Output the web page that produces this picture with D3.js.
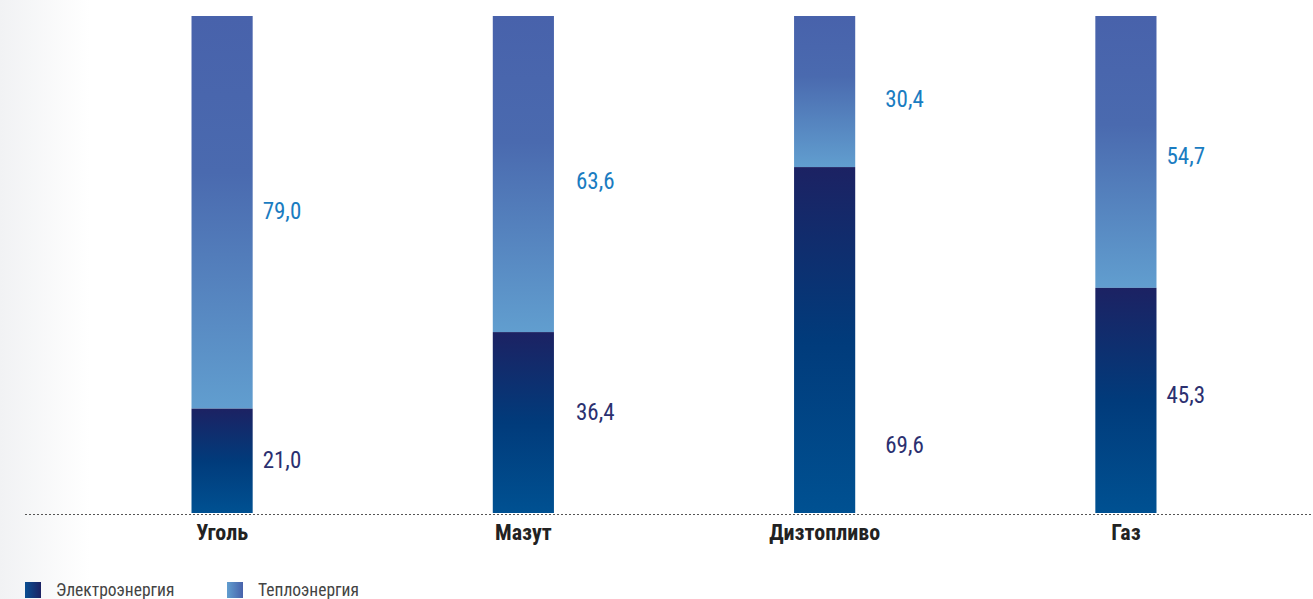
<!DOCTYPE html>
<html><head><meta charset="utf-8">
<script src="https://cdn.jsdelivr.net/npm/d3@7"></script>
<style>html,body{margin:0;padding:0;background:#fff;overflow:hidden}</style>
</head><body>
<svg id="c" width="1313" height="599"></svg>
<script>
const categories = ["Уголь", "Мазут", "Дизтопливо", "Газ"];
const electro = [21.0, 36.4, 69.6, 45.3];
const heat = [79.0, 63.6, 30.4, 54.7];
const seriesNames = ["Электроэнергия", "Теплоэнергия"];
// label anchor levels (in % units, as placed in the original)
const electroLabelAt = [10.7, 20.3, 13.7, 23.7];
const heatLabelAt = [60.8, 66.8, 83.3, 71.8];
const labelGap = [10, 22, 30, 10];

const svg = d3.select("#c");
const W = 1313, H = 599;
const defs = svg.append("defs");

const bg = defs.append("linearGradient").attr("id","bg").attr("x1","0").attr("x2","1").attr("y1","0").attr("y2","0");
bg.append("stop").attr("offset","0").attr("stop-color","#f1f2f4");
bg.append("stop").attr("offset","1").attr("stop-color","#ffffff");
svg.append("rect").attr("x",0).attr("y",0).attr("width",90).attr("height",H).attr("fill","url(#bg)");

const gE = defs.append("linearGradient").attr("id","gE").attr("x1","0").attr("x2","0").attr("y1","0").attr("y2","1");
gE.append("stop").attr("offset","0").attr("stop-color","#1c2263");
gE.append("stop").attr("offset","0.5").attr("stop-color","#013b7b");
gE.append("stop").attr("offset","1").attr("stop-color","#005192");
const gH = defs.append("linearGradient").attr("id","gH").attr("x1","0").attr("x2","0").attr("y1","0").attr("y2","1");
gH.append("stop").attr("offset","0").attr("stop-color","#4862ab");
gH.append("stop").attr("offset","0.4").attr("stop-color","#4a6aaf");
gH.append("stop").attr("offset","1").attr("stop-color","#619ecf");
const lE = defs.append("linearGradient").attr("id","lE").attr("x1","0").attr("x2","1").attr("y1","0").attr("y2","0");
lE.append("stop").attr("offset","0").attr("stop-color","#0a4f92");
lE.append("stop").attr("offset","1").attr("stop-color","#1c2263");
const lH = defs.append("linearGradient").attr("id","lH").attr("x1","0").attr("x2","1").attr("y1","0").attr("y2","0");
lH.append("stop").attr("offset","0").attr("stop-color","#619ecf");
lH.append("stop").attr("offset","1").attr("stop-color","#4862ab");

const x = d3.scaleBand().domain(categories).range([71, 1277]).paddingInner(0.797).paddingOuter(0.4);
const y = d3.scaleLinear().domain([0, 100]).range([513, 16]);

const data = categories.map((c,i)=>({c, e: electro[i], h: heat[i], le: electroLabelAt[i], lh: heatLabelAt[i], g: labelGap[i]}));

svg.selectAll(".h").data(data).join("rect")
  .attr("x", d=>x(d.c)).attr("width", x.bandwidth())
  .attr("y", d=>y(d.e + d.h)).attr("height", d=>y(d.e) - y(d.e+d.h))
  .attr("fill","url(#gH)");
svg.selectAll(".e").data(data).join("rect")
  .attr("x", d=>x(d.c)).attr("width", x.bandwidth())
  .attr("y", d=>y(d.e)).attr("height", d=>y(0) - y(d.e))
  .attr("fill","url(#gE)");

const fmt = v => v.toFixed(1).replace(".", ",");
const lblFont = "'Liberation Sans Narrow','Roboto Condensed','Arial Narrow',sans-serif";
svg.selectAll(".le").data(data).join("text")
  .attr("x", d=>x(d.c)+x.bandwidth()+d.g).attr("y", d=>y(d.le))
  .attr("dy","0.35em").attr("font-family", lblFont).attr("font-size", 23)
  .attr("fill","#2b3070").text(d=>fmt(d.e));
svg.selectAll(".lh").data(data).join("text")
  .attr("x", d=>x(d.c)+x.bandwidth()+d.g).attr("y", d=>y(d.lh))
  .attr("dy","0.35em").attr("font-family", lblFont).attr("font-size", 23)
  .attr("fill","#1a7cc1").text(d=>fmt(d.h));

svg.append("line").attr("x1",25).attr("x2",W).attr("y1",514.5).attr("y2",514.5)
  .attr("stroke","#555").attr("stroke-width",1).attr("stroke-dasharray","2,2");

const ax = svg.append("g").attr("transform","translate(0,514)")
  .call(d3.axisBottom(x).tickSize(0).tickPadding(10));
ax.select(".domain").remove();
ax.selectAll("text").attr("font-family", lblFont).attr("font-weight","bold")
  .attr("font-size", 22).attr("fill","#222");

const leg = svg.append("g");
const legX = [25, 227];
const legFill = ["url(#lE)", "url(#lH)"];
seriesNames.forEach((n,i)=>{
  leg.append("rect").attr("x",legX[i]).attr("y",582).attr("width",16).attr("height",16).attr("fill",legFill[i]);
  leg.append("text").attr("x",legX[i]+31).attr("y",590).attr("dy","0.35em")
    .attr("font-family", lblFont).attr("font-size",17.5).attr("fill","#444").text(n);
});
</script>
</body></html>
